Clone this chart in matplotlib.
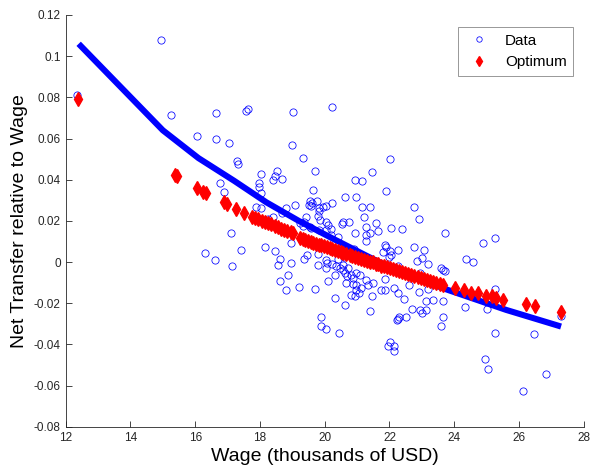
import numpy as np
import matplotlib
matplotlib.use('Agg')
import matplotlib.pyplot as plt

plt.rcParams['font.family'] = ['Liberation Sans', 'DejaVu Sans']

# ---Data points (wage, net transfer / wage)
data_x = [12.36, 14.94, 15.24, 16.07, 16.64, 16.64, 17.05, 17.28, 17.33, 16.78,
          16.89, 17.56, 17.62, 19.02, 20.21, 19.00, 19.33, 22.01, 18.02, 18.54,
          18.47, 18.39, 18.69, 19.69, 21.46, 20.93, 21.16, 17.97, 17.97, 18.02,
          19.64, 21.90, 20.62, 20.96, 19.54, 19.62, 19.75, 19.50, 19.57, 20.21,
          19.82, 19.95, 20.03, 19.81, 19.07, 18.80, 18.69, 21.16, 21.41, 18.02,
          17.89, 22.75, 22.91, 18.39, 18.26, 19.41, 19.35, 19.23, 19.79, 19.85,
          20.03, 20.10, 20.05, 21.21, 20.56, 20.75, 21.57, 22.04, 19.57, 19.82,
          20.18, 20.18, 20.41, 17.10, 20.93, 21.27, 21.41, 21.65, 21.85, 21.90,
          21.80, 22.01, 22.06, 22.26, 21.29, 18.97, 18.15, 17.40, 16.30, 16.61,
          17.15, 18.46, 18.61, 18.56, 18.97, 19.44, 19.35, 19.79, 20.03, 20.08,
          19.79, 20.21, 20.36, 20.31, 20.41, 20.56, 20.62, 20.72, 20.82, 20.87,
          20.98, 20.03, 18.86, 18.63, 18.79, 19.21, 19.69, 20.10, 20.96, 21.06,
          21.13, 20.82, 20.93, 20.31, 20.62, 21.27, 21.34, 21.49, 21.46, 21.41,
          21.75, 21.85, 21.85, 22.14, 22.26, 19.88, 19.88, 20.05, 20.43, 22.01,
          21.95, 22.13, 22.14, 22.26, 19.33, 19.54, 20.52, 21.29, 22.40, 23.72,
          25.27, 24.89, 22.76, 23.06, 24.35, 24.57, 21.98, 23.02, 22.85, 23.19,
          22.26, 23.59, 23.66, 23.71, 22.60, 22.93, 22.60, 22.91, 23.19, 22.44,
          23.14, 23.34, 23.65, 25.25, 24.32, 25.02, 22.71, 23.02, 23.14, 22.29,
          22.23, 22.52, 23.65, 23.58, 25.25, 26.45, 27.30, 24.94, 25.03, 26.84,
          26.14, 20.46, 20.68, 20.59, 20.90, 20.67, 20.87, 20.98, 22.95, 21.08,
          20.56]
data_y = [0.0812, 0.1079, 0.0715, 0.0613, 0.0723, 0.0597, 0.0580, 0.0491, 0.0477, 0.0383,
          0.0339, 0.0735, 0.0742, 0.0731, 0.0752, 0.0567, 0.0504, 0.0501, 0.0428, 0.0444,
          0.0418, 0.0399, 0.0402, 0.0443, 0.0438, 0.0397, 0.0393, 0.0386, 0.0367, 0.0334,
          0.0350, 0.0347, 0.0318, 0.0314, 0.0299, 0.0289, 0.0296, 0.0278, 0.0273, 0.0289,
          0.0262, 0.0269, 0.0273, 0.0250, 0.0278, 0.0262, 0.0237, 0.0267, 0.0269, 0.0262,
          0.0269, 0.0269, 0.0210, 0.0221, 0.0210, 0.0218, 0.0197, 0.0189, 0.0224, 0.0205,
          0.0197, 0.0181, 0.0156, 0.0218, 0.0197, 0.0197, 0.0192, 0.0165, 0.0165, 0.0156,
          0.0160, 0.0132, 0.0124, 0.0143, 0.0143, 0.0132, 0.0143, 0.0153, 0.0083, 0.0075,
          0.0051, 0.0056, 0.0035, 0.0059, 0.0100, 0.0095, 0.0072, 0.0059, 0.0043, 0.0011,
          -0.0018, 0.0056, 0.0016, -0.0014, -0.0005, 0.0035, 0.0016, 0.0040, 0.0011, -0.0005,
          -0.0014, -0.0009, -0.0018, -0.0062, 0.0014, -0.0014, -0.0054, -0.0030, -0.0062, -0.0078,
          -0.0054, -0.0030, -0.0062, -0.0091, -0.0138, -0.0119, -0.0132, -0.0091, -0.0111, -0.0151,
          -0.0127, -0.0159, -0.0167, -0.0175, -0.0208, -0.0086, -0.0111, -0.0100, -0.0164, -0.0237,
          -0.0135, -0.0135, -0.0083, -0.0127, -0.0148, -0.0267, -0.0308, -0.0326, -0.0345, -0.0386,
          -0.0407, -0.0407, -0.0434, -0.0277, 0.0176, 0.0169, 0.0185, 0.0169, 0.0160, 0.0140,
          0.0116, 0.0093, 0.0074, 0.0059, 0.0016, 0.0002, 0.0024, 0.0019, 0.0007, -0.0009,
          -0.0018, -0.0030, -0.0038, -0.0041, -0.0051, -0.0054, -0.0111, -0.0143, -0.0130, -0.0179,
          -0.0188, -0.0183, -0.0187, -0.0132, -0.0216, -0.0227, -0.0229, -0.0248, -0.0235, -0.0265,
          -0.0281, -0.0265, -0.0265, -0.0310, -0.0345, -0.0348, -0.0261, -0.0471, -0.0517, -0.0544,
          -0.0625, -0.0030, -0.0067, 0.0027, 0.0063, -0.0102, -0.0106, -0.0135, -0.0235, -0.0062,
          -0.0038]

# ---Optimal transfer
opt_x = [12.39, 15.38, 15.45, 16.04, 16.24, 16.33, 16.89, 16.98, 17.27, 17.51,
         17.75, 17.85, 17.95, 18.05, 18.15, 18.25, 18.35, 18.45, 18.55, 18.65,
         18.75, 18.85, 18.95, 19.02,
         19.23, 19.32, 19.40, 19.48, 19.57, 19.65, 19.73, 19.81, 19.90, 19.98,
         20.07, 20.15, 20.24, 20.33, 20.41, 20.50, 20.58, 20.67, 20.77, 20.85,
         20.94, 21.03, 21.12, 21.21, 21.30, 21.39, 21.48, 21.57, 21.66, 21.75,
         21.84, 21.93, 22.02, 22.11, 22.21, 22.30, 22.40, 22.49, 22.58, 22.68,
         22.77, 22.87, 22.96, 23.06, 23.15, 23.25, 23.35, 23.45, 23.55, 23.65,
         24.01, 24.29, 24.53, 24.73, 24.99, 25.18, 25.28, 25.52, 26.22, 26.48,
         27.30]
opt_y = [0.0791, 0.0423, 0.0417, 0.0362, 0.0342, 0.0334, 0.0290, 0.0283, 0.0258, 0.0237,
         0.0220, 0.0213, 0.0209, 0.0201, 0.0196, 0.0188, 0.0183, 0.0175, 0.0171, 0.0163,
         0.0158, 0.0150, 0.0146, 0.0140,
         0.0116, 0.0111, 0.0108, 0.0102, 0.0099, 0.0093, 0.0090, 0.0085, 0.0081, 0.0076,
         0.0072, 0.0067, 0.0063, 0.0057, 0.0054, 0.0048, 0.0045, 0.0039, 0.0035, 0.0030,
         0.0026, 0.0020, 0.0017, 0.0011, 0.0007, 0.0002, -0.0002, -0.0008, -0.0011, -0.0017,
         -0.0021, -0.0026, -0.0030, -0.0035, -0.0039, -0.0045, -0.0049, -0.0055, -0.0058, -0.0064,
         -0.0068, -0.0074, -0.0077, -0.0083, -0.0087, -0.0093, -0.0097, -0.0102, -0.0106, -0.0111,
         -0.0127, -0.0135, -0.0148, -0.0151, -0.0163, -0.0167, -0.0175, -0.0183, -0.0204, -0.0213,
         -0.0240]

# ---Fitted curve
fit_x = [12.4, 15.0, 16.1, 17.2, 18.2, 19.2, 20.3, 21.3, 22.3, 23.8, 25.6, 27.3]
fit_y = [0.106, 0.064, 0.0505, 0.0395, 0.029, 0.020, 0.011, 0.003, -0.0048, -0.0135, -0.0232, -0.0313]

fig = plt.figure(figsize=(5.92, 4.68), dpi=100)
ax = fig.add_axes([0.111, 0.088, 0.875, 0.880])

ax.plot(fit_x, fit_y, color='#0000ff', lw=4.4, solid_capstyle='butt', zorder=2)
ax.plot(data_x, data_y, 'o', ls='none', mfc='none', mec='#0000ff', ms=5.2, mew=0.55,
        label='Data', zorder=3)
ax.plot(opt_x, opt_y, 'd', ls='none', mfc='red', mec='red', ms=7,
        label='Optimum', zorder=4)

ax.set_xlim(12, 28)
ax.set_ylim(-0.08, 0.12)
ax.set_xticks(np.arange(12, 29, 2))
yt = np.arange(-0.08, 0.121, 0.02)
ax.set_yticks(yt)
ax.set_yticklabels(['-0.08', '-0.06', '-0.04', '-0.02', '0', '0.02', '0.04',
                    '0.06', '0.08', '0.1', '0.12'])
ax.spines['top'].set_visible(False)
ax.spines['right'].set_visible(False)
for s in ['left', 'bottom']:
    ax.spines[s].set_color('#262626')
    ax.spines[s].set_linewidth(0.6)
ax.tick_params(direction='in', length=4, width=0.6, colors='#262626', labelsize=8.5)

ax.set_xlabel('Wage (thousands of USD)', fontsize=14, labelpad=3)
ax.set_ylabel('Net Transfer relative to Wage', fontsize=14, labelpad=4)

leg = ax.legend(loc='upper right', bbox_to_anchor=(0.995, 0.99), fontsize=11,
                fancybox=False, framealpha=1, edgecolor='#888888',
                handlelength=1.8, markerscale=0.75, borderpad=0.45)
leg.get_frame().set_linewidth(0.6)

fig.savefig('out.png', dpi=100)
